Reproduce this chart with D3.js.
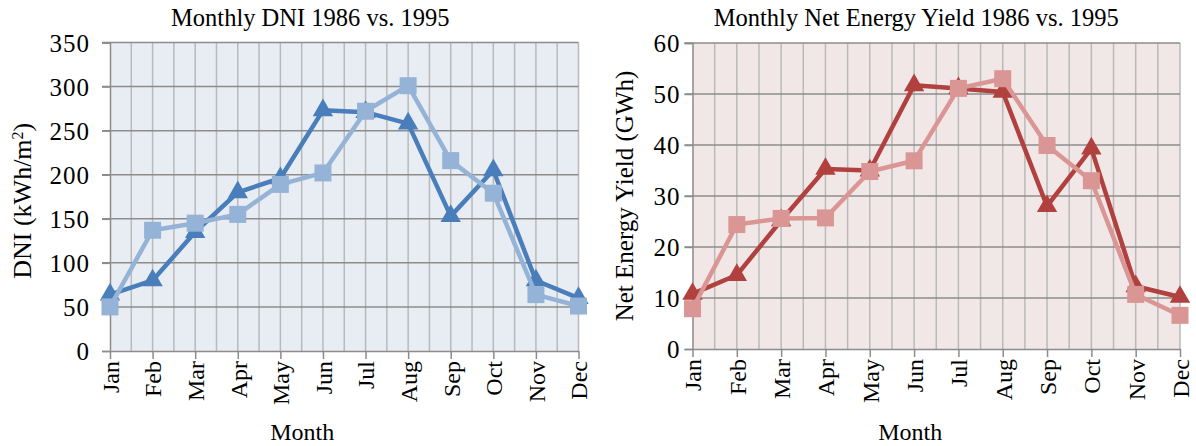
<!DOCTYPE html>
<html>
<head>
<meta charset="utf-8">
<script src="https://cdn.jsdelivr.net/npm/d3@7"></script>
<style>
  body { margin: 0; background: #fff; }
  text { font-family: "Liberation Serif", "DejaVu Serif", serif; fill: #000; }
</style>
</head>
<body>
<div id="chart"></div>
<script>
// Months shared by both panels.
var months = ["Jan", "Feb", "Mar", "Apr", "May", "Jun", "Jul", "Aug", "Sep", "Oct", "Nov", "Dec"];

// DNI (kWh/m2) per month.
var dni1986 = [64, 80, 135, 180, 196, 273, 271, 258, 153, 205, 80, 60];
var dni1995 = [50, 137, 145, 155, 189, 202, 272, 301, 216, 179, 64, 51];
var dniTicks = [0, 50, 100, 150, 200, 250, 300, 350];

// Net energy yield (GWh) per month.
var yield1986 = [10.8, 14.5, 25.2, 35.3, 35.0, 51.7, 51.1, 50.4, 28.0, 39.3, 12.3, 10.2];
var yield1995 = [7.9, 24.4, 25.6, 25.7, 34.8, 36.9, 51.1, 53.0, 39.9, 33.0, 10.7, 6.6];
var yieldTicks = [0, 10, 20, 30, 40, 50, 60];

var width = 1196;
var height = 446;

var svg = d3.select("#chart").append("svg")
    .attr("width", width)
    .attr("height", height);

// One panel: frame, grid, axes, two series.
function drawPanel(cfg) {
  var x = d3.scalePoint().domain(months).range([cfg.x0, cfg.x1]);
  var y = d3.scaleLinear().domain([0, cfg.ticks[cfg.ticks.length - 1]]).range([cfg.y0, cfg.y1]);
  var g = svg.append("g");

  g.append("rect")
      .attr("x", cfg.x0).attr("y", cfg.y1)
      .attr("width", cfg.x1 - cfg.x0).attr("height", cfg.y0 - cfg.y1)
      .style("fill", cfg.bg);

  // vertical grid at every half month
  var step = x.step() / 2;
  var half = d3.range(1, (months.length - 1) * 2 + 1).map(function(i) { return cfg.x0 + i * step; });
  g.selectAll("line.vgrid").data(half).enter().append("line")
      .attr("class", "vgrid")
      .attr("x1", function(d) { return d; }).attr("x2", function(d) { return d; })
      .attr("y1", cfg.y1).attr("y2", cfg.y0)
      .style("stroke", "#b9b9b9").style("stroke-width", 1.5);

  // horizontal grid at the ticks
  g.selectAll("line.hgrid").data(cfg.ticks.slice(1)).enter().append("line")
      .attr("class", "hgrid")
      .attr("x1", cfg.x0 - 8).attr("x2", cfg.x1)
      .attr("y1", function(d) { return y(d); }).attr("y2", function(d) { return y(d); })
      .style("stroke", "#8c8c8c").style("stroke-width", 1.5);

  // y axis
  var yAxis = g.append("g")
      .attr("transform", "translate(" + cfg.x0 + ",0)")
      .call(d3.axisLeft(y).tickValues(cfg.ticks).tickSize(8).tickPadding(cfg.pad));
  yAxis.select(".domain").style("stroke", "#8c8c8c").style("stroke-width", 1.5);
  yAxis.selectAll(".tick line").style("stroke", "#8c8c8c").style("stroke-width", 1.5);
  yAxis.selectAll("text").style("font-size", "25px").style("letter-spacing", "1px").attr("dy", "0.34em");

  // x axis
  var xAxis = g.append("g")
      .attr("transform", "translate(0," + cfg.y0 + ")")
      .call(d3.axisBottom(x).tickSize(8).tickSizeOuter(0));
  xAxis.select(".domain").style("stroke", "#8c8c8c").style("stroke-width", 1.5);
  xAxis.selectAll(".tick line").style("stroke", "#8c8c8c").style("stroke-width", 1.5);
  xAxis.selectAll("text")
      .style("font-size", "24px")
      .attr("text-anchor", "end")
      .attr("transform", "rotate(-90)")
      .attr("x", -10).attr("y", 0).attr("dy", "0.35em");

  // titles
  g.append("text")
      .attr("x", (cfg.x0 + cfg.x1) / 2 + cfg.titleShift).attr("y", 26)
      .attr("text-anchor", "middle")
      .style("font-size", "24.5px")
      .text(cfg.title);
  g.append("text")
      .attr("x", (cfg.x0 + cfg.x1) / 2 + cfg.monthShift).attr("y", 440)
      .attr("text-anchor", "middle")
      .style("font-size", "24px")
      .text("Month");
  g.append("text")
      .attr("transform", "translate(" + cfg.yTitleX + "," + ((cfg.y0 + cfg.y1) / 2 + cfg.yTitleShift) + ") rotate(-90)")
      .attr("text-anchor", "middle")
      .style("font-size", cfg.yTitleSize)
      .html(cfg.yTitle);

  var line = d3.line()
      .x(function(d, i) { return x(months[i]); })
      .y(function(d) { return y(d); });

  // 1986: triangles, dark
  g.append("path").datum(cfg.a)
      .attr("d", line)
      .style("fill", "none").style("stroke", cfg.dark).style("stroke-width", 4.5)
      .style("stroke-linejoin", "round");
  g.selectAll("path.tri").data(cfg.a).enter().append("path")
      .attr("class", "tri")
      .attr("d", d3.symbol().type(d3.symbolTriangle).size(180))
      .attr("transform", function(d, i) { return "translate(" + x(months[i]) + "," + y(d) + ")"; })
      .style("fill", cfg.dark);

  // 1995: squares, light
  g.append("path").datum(cfg.b)
      .attr("d", line)
      .style("fill", "none").style("stroke", cfg.light).style("stroke-width", 4.5)
      .style("stroke-linejoin", "round");
  g.selectAll("rect.sq").data(cfg.b).enter().append("rect")
      .attr("class", "sq")
      .attr("x", function(d, i) { return x(months[i]) - 8.5; })
      .attr("y", function(d) { return y(d) - 8.5; })
      .attr("width", 17).attr("height", 17)
      .style("fill", cfg.light);
}

drawPanel({
  x0: 110, x1: 578.5, y0: 351, y1: 42.5, pad: 12,
  ticks: dniTicks, a: dni1986, b: dni1995,
  bg: "#e8edf4", dark: "#4a7ebb", light: "#95b3d7",
  title: "Monthly DNI 1986 vs. 1995", titleShift: -34, monthShift: -42,
  yTitle: "DNI (kWh/m<tspan baseline-shift=\"super\" font-size=\"16px\">2</tspan>)",
  yTitleX: 31, yTitleShift: 4, yTitleSize: "26px"
});

drawPanel({
  x0: 692.5, x1: 1180, y0: 349, y1: 43, pad: 4,
  ticks: yieldTicks, a: yield1986, b: yield1995,
  bg: "#f2e7e7", dark: "#b0413e", light: "#d99694",
  title: "Monthly Net Energy Yield 1986 vs. 1995", titleShift: -20, monthShift: -26,
  yTitle: "Net Energy Yield (GWh)",
  yTitleX: 633, yTitleShift: 0, yTitleSize: "25px"
});
</script>
</body>
</html>
